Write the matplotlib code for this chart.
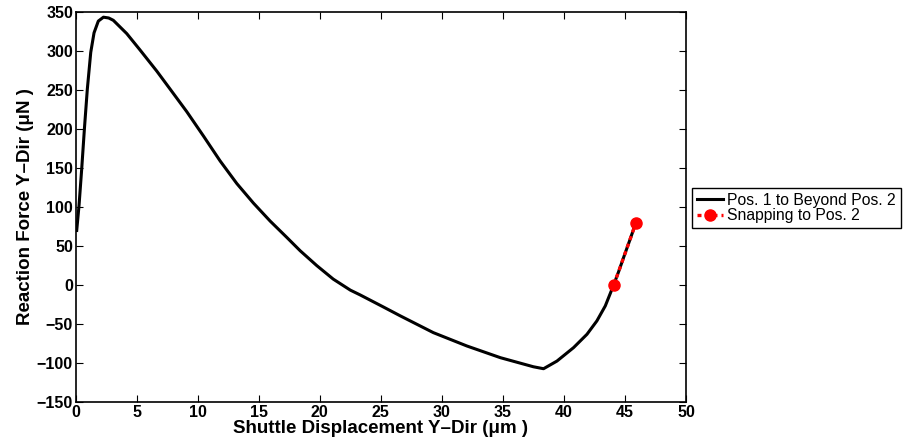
import numpy as np
import matplotlib.pyplot as plt

plt.rcParams['font.family'] = ['Liberation Sans', 'DejaVu Sans']

# reaction force along the path, Pos. 1 to beyond Pos. 2
disp = [0.08, 0.27, 0.49, 0.71, 0.95, 1.23, 1.5, 1.85, 2.27, 2.7, 3.08, 4.18,
        5.27, 6.64, 7.73, 9.1, 10.46, 11.83, 13.2, 14.56, 15.93, 17.3, 18.39,
        19.75, 21.1, 22.5, 23.3, 25.2, 26.6, 29.3, 32.05, 34.8, 37.5, 38.33,
        39.43, 40.79, 41.89, 42.7, 43.39, 44.07, 44.5, 44.89, 45.43, 45.9]
force = [70, 102, 149, 200, 251, 298, 323, 338, 343, 342, 339, 322,
         301, 274, 251, 222, 191, 159, 130, 105, 82, 61, 44,
         25, 7.7, -6.4, -12.5, -27.9, -39.4, -60.8, -77.9, -92.9, -104.5, -107,
         -97.2, -80, -62.9, -45.8, -26.6, 0, 18, 35.4, 59, 80]

# snapping segment
snap_disp = [44.07, 44.5, 44.89, 45.43, 45.9]
snap_force = [0, 18, 35.4, 59, 80]

fig = plt.figure(figsize=(9.07, 4.44), dpi=100)
ax = fig.add_axes([0.0835, 0.0939, 0.6728, 0.8797])

ax.plot(disp, force, color='black', lw=2.2, solid_joinstyle='round',
        label='Pos. 1 to Beyond Pos. 2')
ax.plot(snap_disp, snap_force, color='red', lw=2.4, ls=(0, (1.2, 1.2)),
        marker='o', ms=8, markevery=[0, -1], label='Snapping to Pos. 2')

ax.set_xlim(0, 50)
ax.set_ylim(-150, 350)
ax.set_xticks(np.arange(0, 51, 5))
ax.set_yticks(np.arange(-150, 351, 50))
ax.set_yticklabels(['\u2212' + str(-v) if v < 0 else str(v)
                    for v in np.arange(-150, 351, 50)])
ax.tick_params(direction='in', top=True, right=True, length=5, width=0.8,
               labelsize=11.5, pad=2)
for lab in ax.get_xticklabels() + ax.get_yticklabels():
    lab.set_fontweight('bold')
for sp in ax.spines.values():
    sp.set_linewidth(1.2)

ax.set_xlabel('Shuttle Displacement Y\u2013Dir (\u03bcm )', fontsize=13.5,
              fontweight='bold', labelpad=0)
ax.set_ylabel('Reaction Force Y\u2013Dir (\u03bcN )', fontsize=13.5,
              fontweight='bold', labelpad=2)

leg = ax.legend(loc='upper left', bbox_to_anchor=(0.763, 0.577),
                bbox_transform=fig.transFigure, borderaxespad=0,
                fancybox=False, edgecolor='black', framealpha=1,
                fontsize=11.3, handlelength=1.7, handletextpad=0.25,
                borderpad=0.3, labelspacing=0.05)
leg.get_frame().set_linewidth(1.0)

fig.savefig('out.png', dpi=100)
